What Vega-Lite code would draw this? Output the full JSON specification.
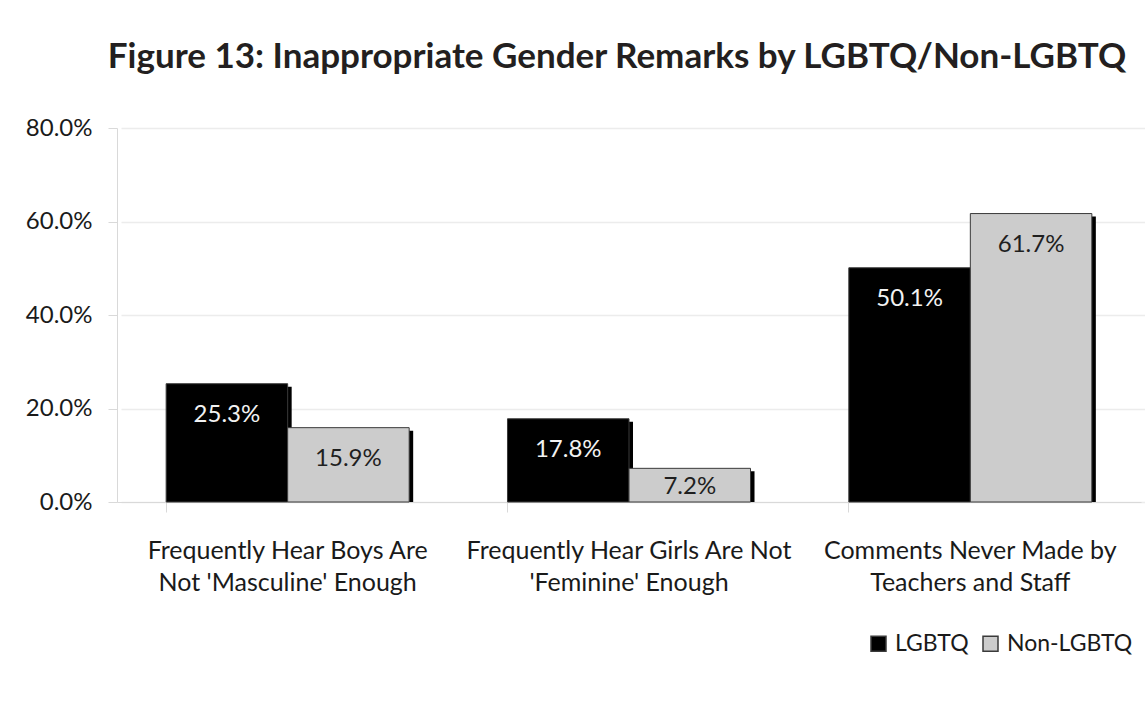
{
  "$schema": "https://vega.github.io/schema/vega-lite/v6.json",
  "width": 1024,
  "height": 374,
  "autosize": {"type": "none"},
  "padding": {"left": 117, "top": 128, "right": 4, "bottom": 204},
  "background": "white",
  "title": {
    "text": "Figure 13: Inappropriate Gender Remarks by LGBTQ/Non-LGBTQ",
    "font": "Lato",
    "fontSize": 35,
    "fontWeight": "bold",
    "color": "#231f20",
    "anchor": "middle",
    "frame": "group",
    "dx": -12,
    "offset": 41
  },
  "data": {
    "values": [
      {"cat": "Frequently Hear Boys Are|Not 'Masculine' Enough", "group": "LGBTQ", "value": 0.253},
      {"cat": "Frequently Hear Boys Are|Not 'Masculine' Enough", "group": "Non-LGBTQ", "value": 0.159},
      {"cat": "Frequently Hear Girls Are Not|'Feminine' Enough", "group": "LGBTQ", "value": 0.178},
      {"cat": "Frequently Hear Girls Are Not|'Feminine' Enough", "group": "Non-LGBTQ", "value": 0.072},
      {"cat": "Comments Never Made by|Teachers and Staff", "group": "LGBTQ", "value": 0.501},
      {"cat": "Comments Never Made by|Teachers and Staff", "group": "Non-LGBTQ", "value": 0.617}
    ]
  },
  "resolve": {"scale": {"x": "independent", "xOffset": "independent"}, "axis": {"x": "independent"}},
  "layer": [
    {
      "mark": {"type": "bar", "color": "#000000", "yOffset": 3, "clip": true},
      "encoding": {
        "x": {
          "field": "cat",
          "type": "nominal",
          "sort": null,
          "scale": {"paddingInner": 0.288, "paddingOuter": 0.144, "range": [4, 1028]},
          "axis": null
        },
        "xOffset": {"field": "group", "type": "nominal", "scale": {"paddingInner": 0, "paddingOuter": 0}},
        "y": {
          "field": "value",
          "type": "quantitative",
          "scale": {"domain": [0, 0.8]},
          "axis": {
            "title": null,
            "values": [0, 0.2, 0.4, 0.6, 0.8],
            "format": ".1%",
            "labelFont": "Lato",
            "labelFontSize": 24,
            "labelColor": "#1a1a1a",
            "labelPadding": 16,
            "tickSize": 9,
            "tickColor": "#d9d9d9",
            "domainColor": "#d9d9d9",
            "gridColor": "#ececec",
            "gridWidth": 1.5
          }
        }
      }
    },
    {
      "encoding": {
        "x": {
          "field": "cat",
          "type": "nominal",
          "sort": null,
          "scale": {"paddingInner": 0.288, "paddingOuter": 0.144},
          "axis": {
            "title": null,
            "labelAngle": 0,
            "labelExpr": "split(datum.label, '|')",
            "labelFont": "Lato",
            "labelFontSize": 25,
            "labelColor": "#1a1a1a",
            "labelLineHeight": 32,
            "labelPadding": 38,
            "labelBaseline": "middle",
            "bandPosition": 0,
            "tickSize": 10,
            "tickColor": "#d9d9d9",
            "domainColor": "#d9d9d9",
            "grid": false,
            "labelLimit": 400
          }
        },
        "xOffset": {"field": "group", "type": "nominal", "scale": {"paddingInner": 0, "paddingOuter": 0}},
        "y": {
          "field": "value",
          "type": "quantitative",
          "scale": {"domain": [0, 0.8]},
          "axis": {
            "title": null,
            "values": [0, 0.2, 0.4, 0.6, 0.8],
            "format": ".1%",
            "labelFont": "Lato",
            "labelFontSize": 24,
            "labelColor": "#1a1a1a",
            "labelPadding": 16,
            "tickSize": 9,
            "tickColor": "#d9d9d9",
            "domainColor": "#d9d9d9",
            "gridColor": "#ececec",
            "gridWidth": 1.5
          }
        }
      },
      "layer": [
        {
          "mark": {"type": "bar", "stroke": "#3a3a3a", "strokeWidth": 1},
          "encoding": {
            "color": {
              "field": "group",
              "type": "nominal",
              "scale": {"domain": ["LGBTQ", "Non-LGBTQ"], "range": ["#000000", "#cccccc"]},
              "legend": {
                "title": null,
                "orient": "none",
                "direction": "horizontal",
                "legendX": 750,
                "legendY": 504,
                "symbolType": "square",
                "symbolSize": 225,
                "symbolStrokeColor": "#3a3a3a",
                "symbolStrokeWidth": 1.5,
                "labelFont": "Lato",
                "labelFontSize": 23,
                "labelColor": "#1a1a1a",
                "columnPadding": 10,
                "labelOffset": 5,
                "labelLimit": 300
              }
            }
          }
        },
        {
          "transform": [{"filter": "datum.value >= 0.1"}],
          "mark": {"type": "text", "font": "Lato", "fontSize": 24, "baseline": "middle", "dy": 31},
          "encoding": {
            "text": {"field": "value", "type": "quantitative", "format": ".1%"},
            "color": {
              "condition": {"test": "datum.group === 'LGBTQ'", "value": "#f2f2f2"},
              "value": "#1f1f1f"
            }
          }
        },
        {
          "transform": [{"filter": "datum.value < 0.1"}],
          "mark": {"type": "text", "font": "Lato", "fontSize": 24, "baseline": "middle", "dy": 19},
          "encoding": {
            "text": {"field": "value", "type": "quantitative", "format": ".1%"},
            "color": {
              "condition": {"test": "datum.group === 'LGBTQ'", "value": "#f2f2f2"},
              "value": "#1f1f1f"
            }
          }
        }
      ]
    }
  ],
  "config": {"view": {"stroke": null}}
}
